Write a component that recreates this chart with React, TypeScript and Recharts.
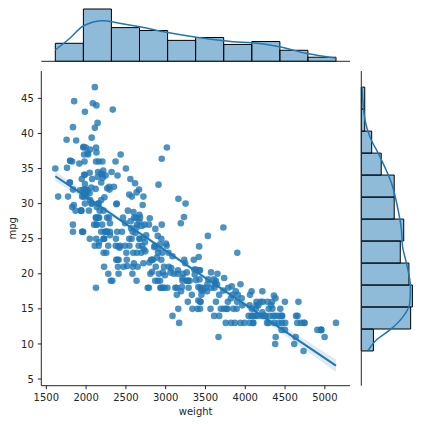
import { Area, ComposedChart, Line, ReferenceArea, Scatter, XAxis, YAxis } from "recharts";

const weight = [
  3504, 3693, 3436, 3433, 3449, 4341, 4354, 4312, 4425, 3850,
  3563, 3609, 3761, 3086, 2372, 2833, 2774, 2587, 2130, 1835,
  2672, 2430, 2375, 2234, 2648, 4615, 4376, 4382, 4732, 2130,
  2264, 2228, 2046, 2634, 3439, 3329, 3302, 3288, 4209, 4464,
  4154, 4096, 4955, 4746, 5140, 2962, 2408, 3282, 3139, 2220,
  2123, 2074, 2065, 1773, 1613, 1834, 1955, 2278, 2126, 2254,
  2408, 2226, 4274, 4385, 4135, 4129, 3672, 4633, 4502, 4456,
  4422, 2330, 3892, 4098, 4294, 4077, 2933, 2511, 2979, 2189,
  2395, 2288, 2506, 2164, 2100, 4100, 3672, 3988, 4042, 3777,
  4952, 4464, 4363, 4237, 4735, 4951, 3821, 3121, 3278, 2945,
  3021, 2904, 1950, 4997, 4906, 4654, 4499, 2789, 2279, 2401,
  2379, 2124, 2310, 2472, 2265, 4082, 4278, 1867, 2158, 2582,
  2868, 3399, 2660, 2807, 3664, 3102, 2875, 2901, 3336, 1950,
  2451, 1836, 2542, 3781, 3632, 3613, 4141, 4699, 4457, 4638,
  4257, 2219, 1963, 2300, 1649, 2003, 2125, 2108, 2246, 2489,
  2391, 2000, 3264, 3459, 3432, 3158, 4668, 4440, 4498, 4657,
  3907, 3897, 3730, 3785, 3039, 3221, 3169, 2171, 2639, 2914,
  2592, 2702, 2223, 2545, 2984, 1937, 3211, 2694, 2957, 2945,
  2671, 1795, 2464, 2220, 2572, 2255, 2202, 4215, 4190, 3962,
  4215, 3233, 3353, 3012, 3085, 2035, 2164, 1937, 1795, 3651,
  3574, 3645, 3193, 1825, 1990, 2155, 2565, 3150, 3940, 3270,
  2930, 3820, 4380, 4055, 3870, 3755, 2045, 2155, 1825, 2300,
  1945, 3880, 4060, 4140, 4295, 3520, 3425, 3630, 3525, 4220,
  4165, 4325, 4335, 1940, 2740, 2265, 2755, 2051, 2075, 1985,
  2190, 2815, 2600, 2720, 1985, 1800, 1985, 2070, 1800, 3365,
  3735, 3570, 3535, 3155, 2965, 2720, 3430, 3210, 3380, 3070,
  3620, 3410, 3425, 3445, 3205, 4080, 2155, 2560, 2300, 2230,
  2515, 2745, 2855, 2405, 2830, 3140, 2795, 3410, 1990, 2135,
  3245, 2990, 2890, 3265, 3360, 3840, 3725, 3955, 3830, 4360,
  4054, 3605, 3940, 1925, 1975, 1915, 2670, 3530, 3900, 3190,
  3420, 2200, 2150, 2020, 2130, 2670, 2595, 2700, 2556, 2144,
  1968, 2120, 2019, 2678, 2870, 3003, 3381, 2188, 2711, 2542,
  2434, 2265, 2110, 2800, 2110, 2085, 2335, 2950, 3250, 1850,
  1835, 2145, 1845, 2910, 2420, 2500, 2905, 2290, 2490, 2635,
  2620, 2725, 2385, 1755, 1875, 1760, 2065, 1975, 2050, 1985,
  2215, 2045, 2380, 2190, 2320, 2210, 2350, 2615, 2635, 3230,
  3160, 2900, 2930, 3415, 3725, 3060, 3465, 2605, 2640, 2395,
  2575, 2525, 2735, 2865, 3035, 1980, 2025, 1970, 2125, 2125,
  2160, 2205, 2245, 1965, 1965, 1995, 2945, 3015, 2585, 2835,
  2665, 2370, 2950, 2790, 2130, 2295, 2625, 2720,
];

const mpg = [
  18, 15, 18, 16, 17, 15, 14, 14, 14, 15,
  15, 14, 15, 14, 24, 22, 18, 21, 27, 26,
  25, 24, 25, 26, 21, 10, 10, 11, 9, 27,
  28, 25, 25, 19, 16, 17, 19, 18, 14, 14,
  14, 14, 12, 13, 13, 18, 22, 19, 18, 23,
  28, 30, 30, 31, 35, 27, 26, 24, 25, 23,
  20, 21, 13, 14, 15, 14, 17, 11, 13, 12,
  13, 19, 15, 13, 13, 14, 18, 22, 21, 26,
  22, 28, 23, 28, 27, 13, 14, 13, 14, 15,
  12, 13, 13, 14, 13, 12, 13, 18, 16, 18,
  18, 23, 26, 11, 12, 13, 12, 18, 20, 21,
  22, 18, 19, 21, 26, 15, 16, 29, 24, 20,
  19, 15, 24, 20, 11, 20, 21, 19, 15, 31,
  26, 32, 25, 16, 16, 18, 16, 13, 14, 14,
  14, 29, 26, 26, 31, 32, 28, 24, 26, 24,
  26, 31, 19, 18, 15, 15, 16, 15, 16, 14,
  17, 16, 15, 18, 21, 20, 13, 29, 23, 20,
  23, 24, 25, 24, 18, 29, 19, 23, 23, 22,
  25, 33, 28, 25, 25, 26, 27, 17.5, 16, 15.5,
  14.5, 22, 22, 24, 22.5, 29, 24.5, 29, 33, 20,
  18, 18.5, 17.5, 29.5, 32, 28, 26.5, 20, 13, 19,
  19, 16.5, 16.5, 13, 13, 13, 31.5, 30, 36, 25.5,
  33.5, 17.5, 17, 15.5, 15, 17.5, 20.5, 19, 18.5, 16,
  15.5, 15.5, 16, 29, 24.5, 26, 25.5, 30.5, 33.5, 30,
  30.5, 22, 21.5, 21.5, 43.1, 36.1, 32.8, 39.4, 36.1, 19.9,
  19.4, 20.2, 19.2, 20.5, 20.2, 25.1, 20.5, 19.4, 20.6, 20.8,
  18.6, 18.1, 19.2, 17.7, 18.1, 17.5, 30, 27.5, 27.2, 30.9,
  21.1, 23.2, 23.8, 23.9, 20.3, 17, 21.6, 16.2, 31.5, 29.5,
  21.5, 19.8, 22.3, 20.2, 20.6, 17, 17.6, 16.5, 18.2, 16.9,
  15.5, 19.2, 18.5, 31.9, 34.1, 35.7, 27.4, 25.4, 23, 27.2,
  23.9, 34.2, 34.5, 31.8, 37.3, 28.4, 28.8, 26.8, 33.5, 41.5,
  38.1, 32.1, 37.2, 28, 26.4, 24.3, 19.1, 34.3, 29.8, 31.3,
  37, 32.2, 46.6, 27.9, 40.8, 44.3, 43.4, 36.4, 30, 44.6,
  40.9, 33.8, 29.8, 32.7, 23.7, 35, 23.6, 32.4, 27.2, 26.6,
  25.8, 23.5, 30, 39.1, 39, 35.1, 32.3, 37, 37.7, 34.1,
  34.7, 34.4, 29.9, 33, 34.5, 33.7, 32.4, 32.9, 31.6, 28.1,
  30.7, 25.4, 24.2, 22.4, 26.6, 20.2, 17.6, 28, 27, 34,
  31, 29, 27, 24, 23, 36, 37, 31, 38, 36,
  36, 36, 34, 38, 32, 38, 25, 38, 26, 22,
  32, 36, 27, 27, 44, 32, 28, 31,
];

const weightTicks = [1500, 2000, 2500, 3000, 3500, 4000, 4500, 5000];
const mpgTicks = [5, 10, 15, 20, 25, 30, 35, 40, 45];

// marginal histograms (bin edges + counts)
const weightBins = [1613, 1966, 2318, 2671, 3024, 3376, 3729, 4082, 4435, 4787, 5140];
const weightCounts = [31, 90, 58, 53, 36, 41, 29, 34, 19, 7];
const mpgBins = [9, 12.13, 15.27, 18.4, 21.53, 24.67, 27.8, 30.93, 34.07, 37.2, 40.33, 43.47, 46.6];
const mpgCounts = [14, 57, 59, 55, 45, 49, 38, 38, 23, 12, 4, 4];

// kde curves
const weightKdeX = [1613, 1796, 1963, 2214, 2400, 2673, 3008, 3425, 3843, 4093, 4428, 4762, 5140];
const weightKdeY = [19.5, 39.6, 60.7, 69.9, 66, 59.5, 49.9, 40.6, 33.7, 32, 25.1, 13.8, 5.2];
const mpgKdeX = [9.1, 10.6, 12, 13.9, 15.8, 18.2, 21.5, 23.9, 26.2, 29.1, 32.9, 36.7, 39.5, 41.9, 46.6];
const mpgKdeY = [8, 17.7, 33, 48.3, 55.9, 56.7, 52.1, 47.6, 46.4, 42.5, 34.9, 21.5, 10, 4.3, 0.8];

// regression fit and 95% band
const regW = [1613, 2000, 2500, 3000, 3500, 4000, 4500, 5140];
const regFit = [33.9, 31.0, 27.1, 23.3, 19.4, 15.6, 11.8, 6.9];
const regLo = [33.2, 30.5, 26.8, 23.05, 19.1, 15.15, 11.2, 6.0];
const regHi = [34.6, 31.5, 27.4, 23.55, 19.7, 16.05, 12.4, 7.8];

const INK = "#262626";
const BLUE = "#1f77b4";
const FONT = "DejaVu Sans";

const points = weight.map((w, i) => ({ w, m: mpg[i] }));
const regData = regW.map((w, i) => ({ w, fit: regFit[i], band: [regLo[i], regHi[i]] }));
const weightKde = weightKdeX.map((w, i) => ({ w, c: weightKdeY[i] }));
const mpgKde = mpgKdeX.map((m, i) => ({ m, c: mpgKdeY[i] }));

const XTitle = ({ viewBox }: any) => (
  <text x={viewBox.x + viewBox.width / 2} y={viewBox.y + 29.5} textAnchor="middle" fontFamily={FONT} fontSize={10} fill={INK}>
    weight
  </text>
);

const YTitle = ({ viewBox }: any) => {
  const x = viewBox.x + 14.5;
  const y = viewBox.y + viewBox.height / 2;
  return (
    <text x={x} y={y} transform={`rotate(-90, ${x}, ${y})`} textAnchor="middle" fontFamily={FONT} fontSize={10} fill={INK}>
      mpg
    </text>
  );
};

const tickStyle = { fontFamily: FONT, fontSize: 10, fill: INK };

export default function App() {
  return (
    <div style={{ position: "absolute", left: 0, top: 0, width: 421, height: 424, background: "#fff" }}>
      {/* joint scatter + regression */}
      <div style={{ position: "absolute", left: 0, top: 0 }}>
        <ComposedChart width={421} height={424} data={regData} margin={{ top: 71, right: 71, bottom: 8.3, left: 1.3 }}>
          <XAxis
            dataKey="w"
            type="number"
            domain={[1437, 5316]}
            allowDataOverflow
            ticks={weightTicks}
            tick={tickStyle}
            tickSize={3.5}
            tickMargin={5}
            height={30}
            axisLine={{ stroke: INK }}
            tickLine={{ stroke: INK }}
            label={<XTitle />}
          />
          <YAxis
            type="number"
            domain={[4.05, 48.9]}
            allowDataOverflow
            ticks={mpgTicks}
            tick={tickStyle}
            tickSize={3.5}
            tickMargin={4}
            width={40}
            axisLine={{ stroke: INK }}
            tickLine={{ stroke: INK }}
            label={<YTitle />}
          />
          <Scatter
            data={points}
            dataKey="m"
            isAnimationActive={false}
            shape={(p: any) => <circle cx={p.cx} cy={p.cy} r={3.3} fill={BLUE} fillOpacity={0.8} />}
          />
          <Area dataKey="band" type="monotone" stroke="none" fill={BLUE} fillOpacity={0.15} isAnimationActive={false} />
          <Line dataKey="fit" type="linear" stroke={BLUE} strokeWidth={2} dot={false} isAnimationActive={false} />
        </ComposedChart>
      </div>

      {/* top margin: weight histogram */}
      <div style={{ position: "absolute", left: 0, top: 0 }}>
        <ComposedChart width={421} height={424} data={weightKde} margin={{ top: 6.4, right: 71, bottom: 357.7, left: 41.3 }}>
          <XAxis
            dataKey="w"
            type="number"
            domain={[1437, 5316]}
            allowDataOverflow
            ticks={weightTicks}
            tick={false}
            tickSize={3.5}
            height={5}
            axisLine={{ stroke: INK }}
            tickLine={{ stroke: INK }}
          />
          <YAxis hide type="number" domain={[0, 94.5]} allowDataOverflow />
          {weightCounts.map((c, i) => (
            <ReferenceArea
              key={i}
              x1={weightBins[i]}
              x2={weightBins[i + 1]}
              y1={0}
              y2={c}
              fill={BLUE}
              fillOpacity={0.5}
              stroke="#000"
              strokeWidth={1}
              ifOverflow="visible"
            />
          ))}
          <Line dataKey="c" type="monotone" stroke={BLUE} strokeWidth={1.5} dot={false} isAnimationActive={false} />
        </ComposedChart>
      </div>

      {/* right margin: mpg histogram */}
      <div style={{ position: "absolute", left: 0, top: 0 }}>
        <ComposedChart layout="vertical" width={421} height={424} data={mpgKde} margin={{ top: 71, right: 6, bottom: 38.3, left: 356.3 }}>
          <XAxis hide type="number" domain={[0, 62]} allowDataOverflow />
          <YAxis
            dataKey="m"
            type="number"
            reversed
            domain={[4.05, 48.9]}
            allowDataOverflow
            ticks={mpgTicks}
            tick={false}
            tickSize={3.5}
            width={5}
            axisLine={{ stroke: INK }}
            tickLine={{ stroke: INK }}
          />
          {mpgCounts.map((c, i) => (
            <ReferenceArea
              key={i}
              x1={0}
              x2={c}
              y1={mpgBins[i]}
              y2={mpgBins[i + 1]}
              fill={BLUE}
              fillOpacity={0.5}
              stroke="#000"
              strokeWidth={1}
              ifOverflow="visible"
            />
          ))}
          <Line dataKey="c" type="monotone" stroke={BLUE} strokeWidth={1.5} dot={false} isAnimationActive={false} />
        </ComposedChart>
      </div>
    </div>
  );
}
